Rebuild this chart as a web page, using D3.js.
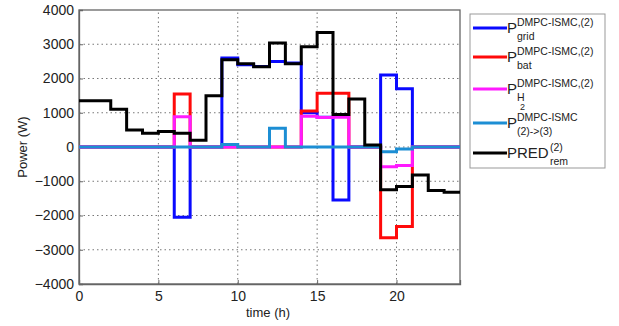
<!DOCTYPE html>
<html>
<head>
<meta charset="utf-8">
<script src="https://cdn.jsdelivr.net/npm/d3@7"></script>
<style>
body { margin: 0; background: #fff; }
text { font-family: "Liberation Sans", Arial, sans-serif; fill: #222; }
</style>
</head>
<body>
<script>
'use strict';
// hourly values (W), hour 0..23, step after
const hours = d3.range(0, 25);
const xTicks = [0, 5, 10, 15, 20];
const yTicks = [-4000, -3000, -2000, -1000, 0, 1000, 2000, 3000, 4000];

const pGrid = [0, 0, 0, 0, 0, 0, -2050, 0, 0, 2600, 2400, 2350, 2500, 2450, 1000, 870, -1550, 0, 0, 2100, 1700, 0, 0, 0];
const pBat  = [0, 0, 0, 0, 0, 0, 1550, 0, 0, 0, 0, 0, 0, 0, 1050, 1570, 1570, 0, 0, -2650, -2320, 0, 0, 0];
const pH2   = [0, 0, 0, 0, 0, 0, 880, 0, 0, 0, 0, 0, 0, 0, 900, 860, 870, 0, 0, -580, -540, 0, 0, 0];
const pExch = [0, 0, 0, 0, 0, 0, 0, 0, 0, 70, 0, 0, 550, 0, 0, 0, 0, 0, 0, -140, -60, 0, 0, 0];
const pRem  = [1350, 1350, 1100, 500, 400, 450, 400, 200, 1500, 2550, 2430, 2340, 3040, 2430, 2930, 3340, 950, 1400, 60, -1250, -1150, -820, -1270, -1320];

const series = [
  {name: 'grid', values: pGrid, color: '#0a0aff', sup: 'DMPC-ISMC,(2)', sub: ['grid']},
  {name: 'bat', values: pBat, color: '#ff0a0a', sup: 'DMPC-ISMC,(2)', sub: ['bat']},
  {name: 'h2', values: pH2, color: '#ff1aff', sup: 'DMPC-ISMC,(2)', sub: ['H', '2']},
  {name: 'exch', values: pExch, color: '#1c8ed4', sup: 'DMPC-ISMC', sub: ['(2)->(3)']},
  {name: 'rem', values: pRem, color: '#000', sup: '(2)', sub: ['rem'], base: 'PRED'}
];

const W = 619, H = 326;
const svg = d3.select('body').append('svg').attr('width', W).attr('height', H);

const x = d3.scaleLinear().domain([0, 24]).range([79, 460]);
const y = d3.scaleLinear().domain([-4000, 4000]).range([284, 10]);

// grid
const g = svg.append('g');
g.selectAll('.gx').data(xTicks.slice(1)).join('line')
  .attr('x1', d => x(d)).attr('x2', d => x(d)).attr('y1', y(-4000)).attr('y2', y(4000))
  .attr('stroke', '#777').attr('stroke-width', 1).attr('stroke-dasharray', '1.5,3');
g.selectAll('.gy').data(yTicks.slice(1, -1)).join('line')
  .attr('y1', d => y(d)).attr('y2', d => y(d)).attr('x1', x(0)).attr('x2', x(24))
  .attr('stroke', '#777').attr('stroke-width', 1).attr('stroke-dasharray', '1.5,3');

// axes
const xAxis = svg.append('g').attr('transform', `translate(0,${y(-4000)})`)
  .call(d3.axisBottom(x).tickValues(xTicks).tickSize(-4).tickPadding(7));
const yAxis = svg.append('g').attr('transform', `translate(${x(0)},0)`)
  .call(d3.axisLeft(y).tickValues(yTicks).tickSize(-4).tickPadding(5).tickFormat(d3.format('d')));
[xAxis, yAxis].forEach(a => {
  a.select('.domain').attr('stroke', '#666').attr('stroke-width', 1.3);
  a.selectAll('.tick line').attr('stroke', '#666');
  a.selectAll('text').attr('font-size', 14).attr('fill', '#222')
    .attr('font-family', '"Liberation Sans", Arial, sans-serif');
});
svg.append('rect').attr('x', x(0)).attr('y', y(4000)).attr('width', x(24) - x(0)).attr('height', y(-4000) - y(4000))
  .attr('fill', 'none').attr('stroke', '#666').attr('stroke-width', 1.3);

// lines
const line = d3.line().curve(d3.curveStepAfter).x((d, i) => x(hours[i])).y(d => y(d));
series.forEach(s => {
  const vals = s.values.concat([s.values[s.values.length - 1]]);
  svg.append('path').datum(vals).attr('d', line)
    .attr('fill', 'none').attr('stroke', s.color).attr('stroke-width', 3)
    .attr('stroke-linejoin', 'miter');
});

// labels
svg.append('text').attr('x', 268).attr('y', 317).attr('text-anchor', 'middle').attr('font-size', 13).text('time (h)');
svg.append('text').attr('transform', 'translate(27,147) rotate(-90)').attr('text-anchor', 'middle')
  .attr('font-size', 13).text('Power (W)');

// legend
const lg = svg.append('g');
lg.append('rect').attr('x', 470).attr('y', 14).attr('width', 135).attr('height', 154)
  .attr('fill', '#fff').attr('stroke', '#999').attr('stroke-width', 1);
const ly = [28, 57, 89, 123, 153];
series.forEach((s, i) => {
  const yy = ly[i];
  lg.append('line').attr('x1', 473).attr('x2', 507).attr('y1', yy).attr('y2', yy)
    .attr('stroke', s.color).attr('stroke-width', 3);
  const base = s.base || 'P';
  lg.append('text').attr('x', 507).attr('y', yy + 5).attr('font-size', 15).text(base);
  const bw = base === 'P' ? 10 : 43;
  lg.append('text').attr('x', 507 + bw).attr('y', yy - 2).attr('font-size', 10.5).text(s.sup);
  lg.append('text').attr('x', 507 + bw).attr('y', yy + 12).attr('font-size', 10.5).text(s.sub[0]);
  if (s.sub.length > 1) {
    lg.append('text').attr('x', 507 + bw + 3).attr('y', yy + 21).attr('font-size', 9).text(s.sub[1]);
  }
});
</script>
</body>
</html>
